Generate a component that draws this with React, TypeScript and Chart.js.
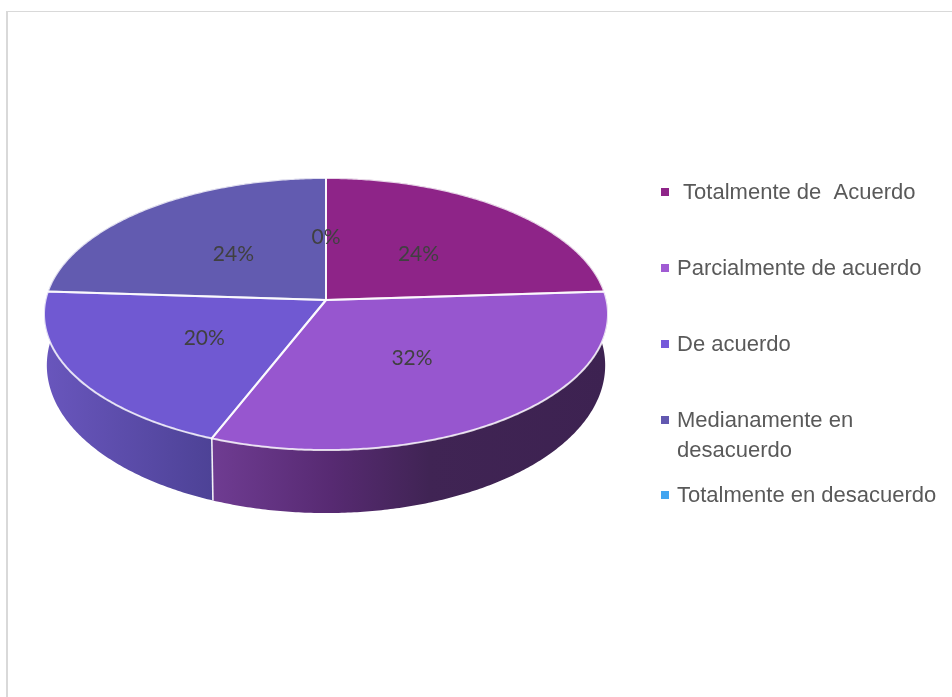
import React, { useEffect, useRef } from "react";
import { Chart, registerables } from "chart.js";

Chart.register(...registerables);

const categories = [
  " Totalmente de  Acuerdo",
  "Parcialmente de acuerdo",
  "De acuerdo",
  "Medianamente en desacuerdo",
  "Totalmente en desacuerdo",
];
const values = [24, 32, 20, 24, 0];
const legendLines = [
  [" Totalmente de  Acuerdo"],
  ["Parcialmente de acuerdo"],
  ["De acuerdo"],
  ["Medianamente en", "desacuerdo"],
  ["Totalmente en desacuerdo"],
];
const faceColors = ["#8e2488", "#9756cf", "#7059d2", "#625bb0", "#42a5f0"];
const swatchColors = ["#8e2488", "#a05bd3", "#7559da", "#6258b0", "#42a5f0"];
const sideStops: [number, string][][] = [
  [[0, "#3e2352"], [1, "#3e2352"]],
  [[0, "#6f3c92"], [0.3, "#572a72"], [0.55, "#402454"], [1, "#3d2251"]],
  [[0, "#6956bd"], [1, "#4d4296"]],
  [[0, "#4d4296"], [1, "#4d4296"]],
  [[0, "#2f7ab5"], [1, "#2f7ab5"]],
];

// Tilted-disc projection: the near edge of the disc is drawn larger than the far edge.
const CX = 326;
const CY = 300;
const RX = 280.5;
const RY = 134.6;
const TILT = 0.103;
const WALL_BASE = 50;
const WALL_NEAR_EXTRA = 13;
const WALL_INSET = 0.99;
const LABEL_RADIUS = 0.5;

function project(angle: number, radius = 1) {
  const u = radius * Math.cos(angle);
  const v = radius * Math.sin(angle);
  const w = 1 - TILT * v;
  return { x: CX + (RX * u) / w, y: CY + (RY * v) / w };
}

// Lower rim of the wall: the drop grows toward the viewer.
function projectWall(angle: number) {
  const top = project(angle);
  return {
    x: CX + (top.x - CX) * WALL_INSET,
    y: top.y + WALL_BASE + WALL_NEAR_EXTRA * Math.sin(angle),
  };
}

function sampleAngles(start: number, end: number) {
  const steps = Math.max(1, Math.ceil((end - start) / 0.01));
  const out: number[] = [];
  for (let i = 0; i <= steps; i++) out.push(start + ((end - start) * i) / steps);
  return out;
}

const framePlugin = {
  id: "frame",
  beforeDraw(chart: any) {
    const { ctx, width, height } = chart;
    ctx.save();
    ctx.fillStyle = "#ffffff";
    ctx.fillRect(0, 0, width, height);
    ctx.fillStyle = "#d9d9d9";
    ctx.fillRect(6, 11, width - 6, 1);
    ctx.fillRect(6, 11, 2, height - 11);
    ctx.restore();
  },
};

const discPlugin = {
  id: "disc",
  beforeDatasetsDraw(chart: any) {
    const { ctx } = chart;
    const arcs = chart.getDatasetMeta(0).data;
    ctx.save();

    // Side wall, one band per slice.
    arcs.forEach((arc: any, i: number) => {
      if (arc.endAngle - arc.startAngle <= 0) return;
      const angles = sampleAngles(arc.startAngle, arc.endAngle);
      const upper = angles.map((a) => project(a));
      const lower = angles.map((a) => projectWall(a));
      const xs = upper.concat(lower).map((p) => p.x);
      const grad = ctx.createLinearGradient(Math.min(...xs), 0, Math.max(...xs), 0);
      sideStops[i].forEach(([o, c]) => grad.addColorStop(o, c));
      ctx.beginPath();
      upper.forEach((p, k) => (k ? ctx.lineTo(p.x, p.y) : ctx.moveTo(p.x, p.y)));
      lower.reverse().forEach((p) => ctx.lineTo(p.x, p.y));
      ctx.closePath();
      ctx.fillStyle = grad;
      ctx.fill();
    });

    // Separators on the front of the wall.
    ctx.strokeStyle = "rgba(255,255,255,0.9)";
    ctx.lineWidth = 1.6;
    arcs.forEach((arc: any) => {
      if (Math.sin(arc.startAngle) < 0.2) return;
      const a = project(arc.startAngle);
      const b = projectWall(arc.startAngle);
      ctx.beginPath();
      ctx.moveTo(a.x, a.y);
      ctx.lineTo(b.x, b.y);
      ctx.stroke();
    });

    // Top faces.
    arcs.forEach((arc: any, i: number) => {
      if (arc.endAngle - arc.startAngle <= 0) return;
      ctx.beginPath();
      ctx.moveTo(CX, CY);
      sampleAngles(arc.startAngle, arc.endAngle).forEach((a) => {
        const p = project(a);
        ctx.lineTo(p.x, p.y);
      });
      ctx.closePath();
      ctx.fillStyle = faceColors[i];
      ctx.fill();
    });
    ctx.strokeStyle = "rgba(255,255,255,0.8)";
    ctx.lineWidth = 2;
    ctx.lineJoin = "round";
    arcs.forEach((arc: any) => {
      if (arc.endAngle - arc.startAngle <= 0) return;
      ctx.beginPath();
      ctx.moveTo(CX, CY);
      sampleAngles(arc.startAngle, arc.endAngle).forEach((a) => {
        const p = project(a);
        ctx.lineTo(p.x, p.y);
      });
      ctx.closePath();
      ctx.stroke();
    });

    // Percentage labels.
    ctx.font = "21px Lato";
    ctx.fillStyle = "#404040";
    ctx.textAlign = "center";
    ctx.textBaseline = "middle";
    const total = values.reduce((s, v) => s + v, 0);
    arcs.forEach((arc: any, i: number) => {
      const p = project((arc.startAngle + arc.endAngle) / 2, LABEL_RADIUS);
      ctx.fillText(`${Math.round((values[i] / total) * 100)}%`, p.x, p.y + 1.5);
    });
    ctx.restore();
    return false;
  },
};

const LEGEND_TEXT_X = 677;
const LEGEND_SWATCH_X = 661;
const legendRowY = [192, 268, 344, 420, 495];
const LEGEND_LINE_STEP = 30;

const sideLegendPlugin = {
  id: "sideLegend",
  afterDraw(chart: any) {
    const { ctx } = chart;
    ctx.save();
    ctx.font = "22px 'Liberation Sans'";
    ctx.textAlign = "left";
    ctx.textBaseline = "middle";
    legendLines.forEach((lines, i) => {
      ctx.fillStyle = swatchColors[i];
      ctx.fillRect(LEGEND_SWATCH_X, legendRowY[i] - 4, 8, 8);
      ctx.fillStyle = "#595959";
      lines.forEach((line, k) => {
        ctx.fillText(line, LEGEND_TEXT_X, legendRowY[i] + 1 + k * LEGEND_LINE_STEP);
      });
    });
    ctx.restore();
  },
};

export default function App() {
  const ref = useRef<HTMLCanvasElement | null>(null);
  useEffect(() => {
    document.body.style.margin = "0";
    const chart = new Chart(ref.current as HTMLCanvasElement, {
      type: "pie",
      data: {
        labels: categories,
        datasets: [{ data: values, backgroundColor: faceColors, borderWidth: 0 }],
      },
      options: {
        responsive: false,
        animation: false,
        events: [],
        plugins: { legend: { display: false }, tooltip: { enabled: false } },
      },
      plugins: [framePlugin, discPlugin, sideLegendPlugin],
    } as any);
    return () => chart.destroy();
  }, []);
  return <canvas ref={ref} width={952} height={697} style={{ display: "block" }} />;
}
